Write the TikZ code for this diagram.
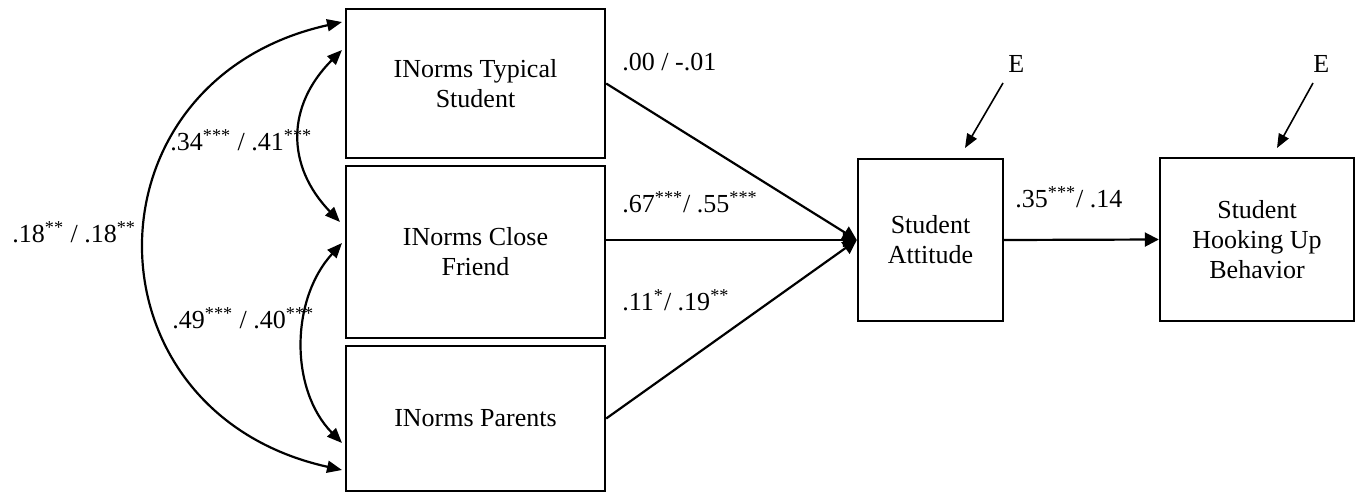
\documentclass[tikz,border=0pt]{standalone}
\usepackage{fontspec}
\setmainfont{Liberation Serif}
\usetikzlibrary{arrows.meta}

\tikzset{
  varbox/.style={draw, line width=1.2pt, align=center, inner sep=0pt, font=\fontsize{13}{15}\selectfont},
  coef/.style={anchor=base west, inner sep=0pt, font=\fontsize{13}{15}\selectfont},
  pathline/.style={line width=1.1pt, -{Triangle[length=7pt,width=7pt]}},
  covline/.style={line width=1.1pt, {Triangle[length=7.5pt,width=6pt]}-{Triangle[length=7.5pt,width=6pt]}},
  errline/.style={line width=0.8pt, -{Triangle[length=7pt,width=5.5pt]}}
}

\begin{document}
\begin{tikzpicture}[x=0.5pt,y=0.5pt,yscale=-1]
\useasboundingbox (0,0) rectangle (1363,493);

% Boxes
\draw (475.5,83.5) node (typ) [varbox, minimum width=129.5pt, minimum height=74.5pt] {INorms Typical\\Student};
\draw (475.5,252) node (clo) [varbox, minimum width=129.5pt, minimum height=86pt] {INorms Close\\Friend};
\draw (475.5,418.5) node (par) [varbox, minimum width=129.5pt, minimum height=72.5pt] {INorms Parents};
\draw (930.5,240) node (att) [varbox, minimum width=72.5pt, minimum height=81pt] {Student\\Attitude};
\draw (1257,239.5) node (hook) [varbox, minimum width=97pt, minimum height=81.5pt] {Student\\Hooking Up\\Behavior};

% Error terms
\draw (1008,72) node (e1) [coef] {E};
\draw (1313,72) node (e2) [coef] {E};
\coordinate (ea1) at (1003,83);
\coordinate (eb1) at (965,148);
\coordinate (ea2) at (1313,83);
\coordinate (eb2) at (1277,148);
\draw [errline] (ea1) -- (eb1);
\draw [errline] (ea2) -- (eb2);

% Paths
\draw [pathline] (typ.east) -- (att.west);
\draw [pathline] (att.west -| clo.east) -- (att.west);
\draw [pathline] (par.east) -- (att.west);
\draw [pathline] (att.east) -- (hook.west);

% Covariances
\coordinate (t0) at (342,22);
\coordinate (p0) at (342,470);
\coordinate (t1) at (342,50);
\coordinate (c1) at (340,222);
\coordinate (c2) at (342,243);
\coordinate (p2) at (342,443);
\draw [covline] (t0) .. controls (80,80) and (80,412) .. (p0);
\draw [covline] (t1) .. controls (286,106) and (286,166) .. (c1);
\draw [covline] (c2) .. controls (290,300) and (290,390) .. (p2);

% Text Node
\draw (12,242) node (r18) [coef] {.18\textsuperscript{**} / .18\textsuperscript{**}};
\draw (170,150) node (r34) [coef] {.34\textsuperscript{***} / .41\textsuperscript{***}};
\draw (172,328) node (r49) [coef] {.49\textsuperscript{***} / .40\textsuperscript{***}};
\draw (622,70) node (b00) [coef] {.00 / -.01};
\draw (622,212) node (b67) [coef] {.67\textsuperscript{***}/ .55\textsuperscript{***}};
\draw (622,310) node (b11) [coef] {.11\textsuperscript{*}/ .19\textsuperscript{**}};
\draw (1015,207) node (b35) [coef] {.35\textsuperscript{***}/ .14};

\end{tikzpicture}
\end{document}
